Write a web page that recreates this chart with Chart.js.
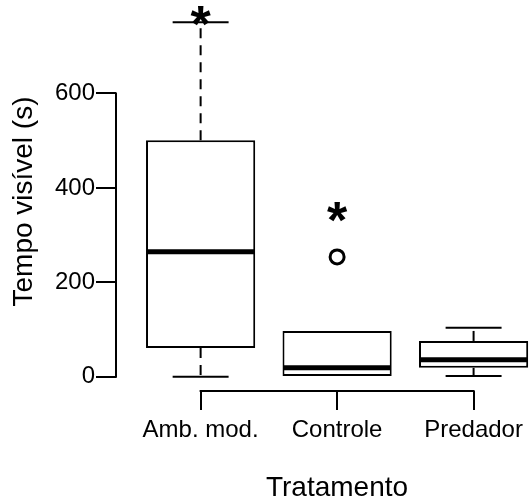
<!DOCTYPE html>
<html>
<head>
<meta charset="utf-8">
<script src="https://cdn.jsdelivr.net/npm/chart.js@4.4.1/dist/chart.umd.min.js"></script>
<style>
  html, body { margin: 0; padding: 0; background: #fff; overflow: hidden; }
</style>
</head>
<body>
<canvas id="boxChart" width="529" height="501"></canvas>
<script>
// box plot statistics
const categories = ['Amb. mod.', 'Controle', 'Predador'];
const whiskerLow = [0, 2, 2];
const quartile1 = [61, 2, 19];
const medians = [265, 19, 36];
const quartile3 = [501, 97, 76];
const whiskerHigh = [751, 97, 104];
const outlierGroup = [2];
const outlierValue = [254];
const starGroup = [1, 2];
const starValue = [764, 349];
const yTicks = [0, 200, 400, 600];

Chart.defaults.font.family = '"Liberation Sans", Arial, sans-serif';
Chart.defaults.color = '#000';

const X_MIN = 0.38, X_MAX = 3.406;
const Y_MIN = -30, Y_MAX = 781;

// whiskers, caps, medians, axis lines, stars and titles (R boxplot look)
const boxExtras = {
    id: 'boxExtras',
    afterDatasetsDraw(chart) {
        const ctx = chart.ctx;
        const xs = chart.scales.x;
        const ys = chart.scales.y;
        const area = chart.chartArea;
        const capHalf = 0.205;
        const boxHalf = 0.4;

        ctx.save();
        ctx.strokeStyle = '#000';
        ctx.fillStyle = '#000';

        categories.forEach((c, i) => {
            const cx = xs.getPixelForValue(i + 1);

            // dashed whiskers
            ctx.lineWidth = 2;
            ctx.setLineDash([10, 7]);
            [[quartile1[i], whiskerLow[i]], [quartile3[i], whiskerHigh[i]]].forEach(([a, b]) => {
                if (a === b) return;
                ctx.beginPath();
                ctx.moveTo(cx, ys.getPixelForValue(a));
                ctx.lineTo(cx, ys.getPixelForValue(b));
                ctx.stroke();
            });
            ctx.setLineDash([]);

            // caps
            [[whiskerLow[i], quartile1[i]], [whiskerHigh[i], quartile3[i]]].forEach(([v, ref]) => {
                if (v === ref) return;
                const y = ys.getPixelForValue(v);
                ctx.beginPath();
                ctx.moveTo(xs.getPixelForValue(i + 1 - capHalf), y);
                ctx.lineTo(xs.getPixelForValue(i + 1 + capHalf), y);
                ctx.stroke();
            });

            // median
            ctx.lineWidth = 5;
            const my = ys.getPixelForValue(medians[i]);
            ctx.beginPath();
            ctx.moveTo(xs.getPixelForValue(i + 1 - boxHalf) + 1, my);
            ctx.lineTo(xs.getPixelForValue(i + 1 + boxHalf) - 1, my);
            ctx.stroke();
        });

        // axis lines only between first and last tick
        ctx.lineWidth = 2;
        ctx.beginPath();
        ctx.moveTo(area.left, ys.getPixelForValue(yTicks[0]) + 1);
        ctx.lineTo(area.left, ys.getPixelForValue(yTicks[yTicks.length - 1]) - 1);
        ctx.stroke();
        ctx.beginPath();
        ctx.moveTo(xs.getPixelForValue(1) - 1, area.bottom);
        ctx.lineTo(xs.getPixelForValue(categories.length) + 1, area.bottom);
        ctx.stroke();

        // significance stars
        ctx.font = 'bold 52px "Liberation Sans", Arial, sans-serif';
        ctx.textAlign = 'center';
        ctx.textBaseline = 'alphabetic';
        const m = ctx.measureText('*');
        const glyphMid = (m.actualBoundingBoxAscent - m.actualBoundingBoxDescent) / 2;
        starGroup.forEach((g, k) => {
            ctx.fillText('*', xs.getPixelForValue(g), ys.getPixelForValue(starValue[k]) + glyphMid);
        });

        // axis titles
        ctx.font = '28px "Liberation Sans", Arial, sans-serif';
        ctx.fillText('Tratamento', 337, 496);
        ctx.translate(32, (area.top + area.bottom) / 2 + 2);
        ctx.rotate(-Math.PI / 2);
        ctx.fillText('Tempo visível (s)', 0, 0);
        ctx.restore();
    }
};

const ctx = document.getElementById('boxChart').getContext('2d');
const myChart = new Chart(ctx, {
    data: {
        datasets: [
            {
                type: 'bar',
                data: categories.map((c, i) => ({ x: i + 1, y: [quartile1[i], quartile3[i]] })),
                backgroundColor: '#fff',
                borderColor: '#000',
                borderWidth: 2,
                borderSkipped: false,
                barPercentage: 0.8,
                categoryPercentage: 1
            },
            {
                type: 'scatter',
                data: outlierGroup.map((g, k) => ({ x: g, y: outlierValue[k] })),
                pointStyle: 'circle',
                pointRadius: 7,
                pointBorderWidth: 3,
                pointBackgroundColor: '#fff',
                pointBorderColor: '#000'
            }
        ]
    },
    options: {
        responsive: false,
        animation: false,
        events: [],
        // no automatic padding for the outlier point, keep the plot region fixed
        layout: { autoPadding: false, padding: { top: 8, right: 0, left: 0, bottom: 0 } },
        plugins: {
            legend: { display: false },
            tooltip: { enabled: false }
        },
        scales: {
            x: {
                type: 'linear',
                bounds: 'data',
                offset: false,
                min: X_MIN,
                max: X_MAX,
                afterBuildTicks: (scale) => {
                    scale.ticks = categories.map((c, i) => ({ value: i + 1 }));
                },
                afterFit: (scale) => {
                    scale.height = 110;
                    scale.paddingLeft = 0;
                    scale.paddingRight = 0;
                },
                border: { display: false },
                grid: {
                    offset: false,
                    drawOnChartArea: false,
                    drawTicks: true,
                    tickLength: 19,
                    color: '#000',
                    lineWidth: 2
                },
                ticks: {
                    autoSkip: false,
                    maxRotation: 0,
                    padding: 6,
                    font: { size: 24 },
                    callback: (v) => categories[v - 1]
                }
            },
            y: {
                type: 'linear',
                bounds: 'data',
                min: Y_MIN,
                max: Y_MAX,
                afterBuildTicks: (scale) => {
                    scale.ticks = yTicks.map(v => ({ value: v }));
                },
                afterFit: (scale) => {
                    scale.width = 116;
                    scale.paddingTop = 0;
                    scale.paddingBottom = 0;
                },
                border: { display: false },
                grid: {
                    drawOnChartArea: false,
                    drawTicks: true,
                    tickLength: 20,
                    color: '#000',
                    lineWidth: 2
                },
                ticks: {
                    padding: 1,
                    font: { size: 24 }
                }
            }
        }
    },
    plugins: [boxExtras]
});
</script>
</body>
</html>
